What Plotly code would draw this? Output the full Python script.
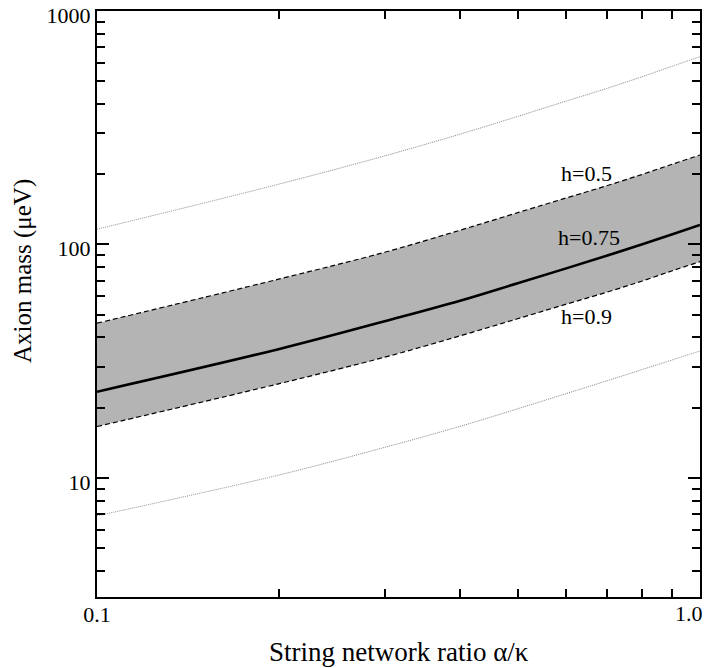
import numpy as np
import plotly.graph_objects as go

# String network ratio alpha/kappa
ratio = [0.1, 0.2, 0.3, 0.4, 0.5, 0.6, 0.7, 0.8, 0.9, 1.0]

# Axion mass (micro-eV)
upper_dotted = [116.2, 181.1, 239.6, 296.8, 354.4, 411.3, 465.7, 522.2, 580.3, 637.4]
h050 = [46.0, 71.0, 92.6, 115.1, 137.2, 158.2, 178.4, 199.2, 220.8, 241.7]
h075 = [23.4, 35.6, 46.9, 57.4, 68.4, 79.0, 89.4, 99.9, 110.7, 121.2]
h090 = [16.6, 25.3, 32.9, 40.6, 48.2, 55.5, 62.4, 69.6, 77.2, 84.4]
lower_dotted = [6.88, 10.28, 13.52, 16.63, 19.83, 22.98, 26.03, 29.07, 32.05, 34.99]

curve_labels = ["h=0.5", "h=0.75", "h=0.9"]
label_x = [0.648, 0.655, 0.649]
label_y = [202, 106.6, 49.1]

x_tickvals = [0.1, 1.0]
x_ticktext = ["0.1", "1.0"]
y_tickvals = [10, 100, 1000]
y_ticktext = ["10", "100", "1000"]

FONT = "Liberation Serif, Times New Roman, Tinos, serif"

fig = go.Figure()

fig.add_trace(go.Scatter(x=ratio, y=h090, mode="lines", line_shape="spline",
                         line=dict(color="black", width=1.2, dash="5px,3px"),
                         showlegend=False, hoverinfo="skip"))
fig.add_trace(go.Scatter(x=ratio, y=h050, mode="lines", line_shape="spline",
                         line=dict(color="black", width=1.2, dash="5px,3px"),
                         fill="tonexty", fillcolor="#b4b4b4",
                         showlegend=False, hoverinfo="skip"))
fig.add_trace(go.Scatter(x=ratio, y=h075, mode="lines", line_shape="spline",
                         line=dict(color="black", width=2.6),
                         showlegend=False, hoverinfo="skip"))
fig.add_trace(go.Scatter(x=ratio, y=upper_dotted, mode="lines", line_shape="spline",
                         line=dict(color="#888888", width=1, dash="1px,1px"),
                         showlegend=False, hoverinfo="skip"))
fig.add_trace(go.Scatter(x=ratio, y=lower_dotted, mode="lines", line_shape="spline",
                         line=dict(color="#888888", width=1, dash="1px,1px"),
                         showlegend=False, hoverinfo="skip"))

for t, lx, ly in zip(curve_labels, label_x, label_y):
    fig.add_annotation(x=np.log10(lx), y=np.log10(ly), xref="x", yref="y",
                       text=t, showarrow=False,
                       font=dict(family=FONT, size=22, color="black"))

# the rightmost x tick label sits at the window edge: draw it as an annotation
fig.add_annotation(x=np.log10(x_tickvals[-1]), y=0, xref="x", yref="paper",
                   text=x_ticktext[-1], showarrow=False, xanchor="right",
                   yanchor="middle", xshift=5, yshift=-16,
                   font=dict(family=FONT, size=22, color="black"))

fig.add_annotation(x=0.5, y=0, xref="paper", yref="paper", yshift=-55, xshift=0,
                   text="String network ratio α/κ", showarrow=False,
                   xanchor="center", yanchor="middle",
                   font=dict(family=FONT, size=27, color="black"))
fig.add_annotation(x=0, y=0.5, xref="paper", yref="paper", xshift=-74, yshift=33,
                   text="Axion mass (μeV)", showarrow=False, textangle=-90,
                   xanchor="center", yanchor="middle",
                   font=dict(family=FONT, size=25, color="black"))

axis_common = dict(type="log", showgrid=False, zeroline=False, automargin=False,
                   showline=True, linecolor="black", linewidth=2, mirror="allticks",
                   ticks="inside", ticklen=12, tickwidth=1.6, tickcolor="black",
                   ticklabeloverflow="allow",
                   tickfont=dict(family=FONT, size=22, color="black"))

fig.update_xaxes(**axis_common, range=[-1, 0], tickmode="array",
                 tickvals=x_tickvals, ticktext=[x_ticktext[0], ""], ticklabelstandoff=-3,
                 minor=dict(ticks="inside", ticklen=8, tickwidth=1.6, tickcolor="black",
                            tickmode="array",
                            tickvals=[0.2, 0.3, 0.4, 0.5, 0.6, 0.7, 0.8, 0.9]))
fig.update_yaxes(**axis_common, range=[0.49, 3], tickmode="array",
                 tickvals=y_tickvals, ticktext=y_ticktext, ticklabelshift=4,
                 minor=dict(ticks="inside", ticklen=8, tickwidth=1.6, tickcolor="black",
                            tickmode="array",
                            tickvals=[4, 5, 6, 7, 8, 9, 20, 30, 40, 50, 60, 70, 80, 90,
                                      200, 300, 400, 500, 600, 700, 800, 900]))

# page body has an 8px margin, so the figure is offset by 8px in the window
fig.update_layout(width=697, height=660, margin=dict(l=89, r=5, t=3, b=71),
                  paper_bgcolor="white", plot_bgcolor="white",
                  font=dict(family=FONT, color="black"))

fig.write_html("out.html")
